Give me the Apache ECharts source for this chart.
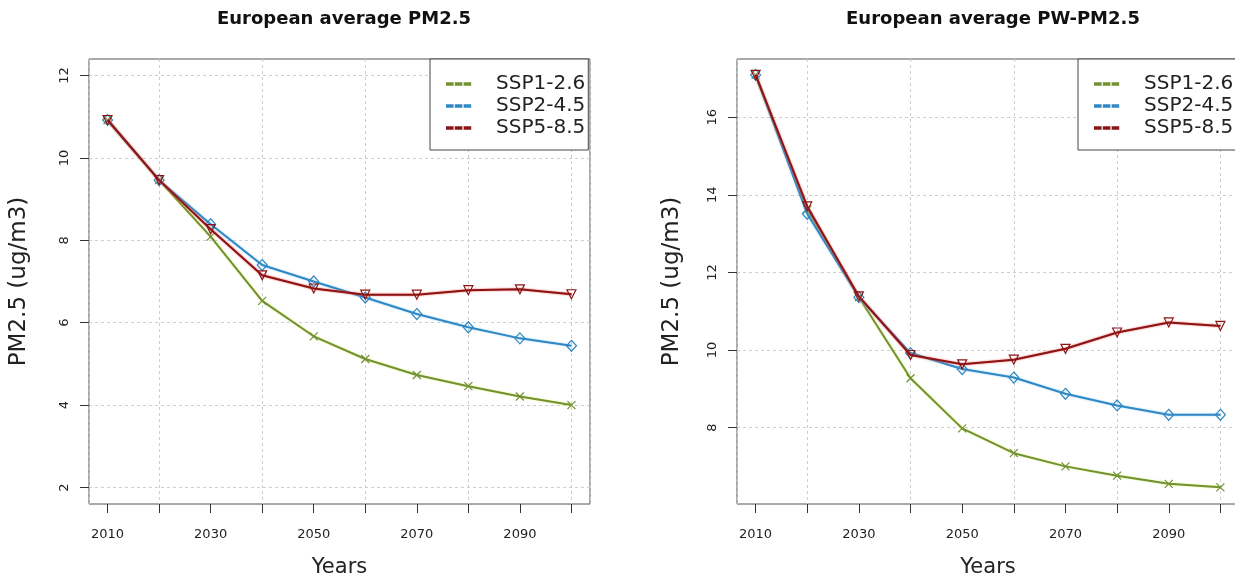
<!DOCTYPE html>
<html>
<head>
<meta charset="utf-8">
<script src="https://cdn.jsdelivr.net/npm/echarts@6/dist/echarts.min.js"></script>
<style>
html,body{margin:0;padding:0;background:#fff}
#main{width:1235px;height:576px}
</style>
</head>
<body>
<div id="main"></div>
<script>
// data
const years = [2010, 2020, 2030, 2040, 2050, 2060, 2070, 2080, 2090, 2100];
const scenarios = ['SSP1-2.6', 'SSP2-4.5', 'SSP5-8.5'];

// left: European average PM2.5
const pmSsp126 = [10.92, 9.46, 8.09, 6.53, 5.67, 5.12, 4.73, 4.46, 4.21, 4.00];
const pmSsp245 = [10.92, 9.46, 8.39, 7.40, 7.00, 6.61, 6.21, 5.89, 5.62, 5.44];
const pmSsp585 = [10.92, 9.46, 8.27, 7.15, 6.83, 6.68, 6.68, 6.79, 6.81, 6.69];

// right: European average PW-PM2.5
const pwSsp126 = [17.09, 13.62, 11.36, 9.27, 7.98, 7.34, 7.00, 6.76, 6.55, 6.46];
const pwSsp245 = [17.09, 13.51, 11.36, 9.92, 9.51, 9.29, 8.87, 8.57, 8.33, 8.33];
const pwSsp585 = [17.09, 13.70, 11.38, 9.87, 9.63, 9.75, 10.03, 10.45, 10.71, 10.62];

// axis ticks / labels
const xTicks = [2010, 2020, 2030, 2040, 2050, 2060, 2070, 2080, 2090, 2100];
const xLabels = [2010, 2030, 2050, 2070, 2090];
const pmTicks = [2, 4, 6, 8, 10, 12];
const pwTicks = [8, 10, 12, 14, 16];

const colors = ['#729232', '#3088c4', '#8b1414'];
const glows = ['#dcef80', '#9ad4f4', '#f06060'];
const FONT = 'DejaVu Sans';

const chart = echarts.init(document.getElementById('main'));

const dashIcon = 'path://M0,0h7v2h-7z M11,0h7v2h-7z M22,0h7v2h-7z';
const symbols = ['path://M0,0L10,10M10,0L0,10', 'diamond', 'triangle'];
const symbolSizes = [8, [10, 11], 9];
const symbolRotates = [0, 0, 180];

const gridLine = {show: true, lineStyle: {color: '#cdcdcd', type: [3, 3], width: 1}};

function makeSeries(idx, lists) {
    return lists.map((vals, k) => ({
        name: scenarios[k],
        type: 'line',
        xAxisIndex: idx * 2,
        yAxisIndex: idx,
        data: years.map((y, i) => [y, vals[i]]),
        symbol: symbols[k],
        symbolSize: symbolSizes[k],
        symbolRotate: symbolRotates[k],
        lineStyle: {color: colors[k], width: 2, shadowColor: glows[k], shadowBlur: 2},
        itemStyle: {color: 'rgba(255,255,255,0)', borderColor: colors[k], borderWidth: 1.2},
        z: 2 + k,
        animation: false
    }));
}

function makeX(idx) {
    return [
        {
            gridIndex: idx, type: 'value', min: 2006.4, max: 2103.6, position: 'bottom',
            axisLine: {show: false, onZero: false},
            axisTick: {show: true, length: 9, customValues: xTicks, lineStyle: {color: '#333'}},
            axisLabel: {customValues: xLabels, formatter: v => String(v), margin: 24,
                        fontSize: 13, color: '#222', fontFamily: FONT},
            splitLine: {show: false},
            name: 'Years', nameLocation: 'middle', nameGap: 53,
            nameTextStyle: {fontSize: 21, color: '#222', fontFamily: FONT}
        },
        // vertical grid every 20 years (2020..2100): axis counted in years after 2020
        {
            gridIndex: idx, type: 'value', min: 2006.4 - 2020, max: 2103.6 - 2020, splitNumber: 5,
            position: 'bottom',
            axisLine: {show: false, onZero: false}, axisTick: {show: false}, axisLabel: {show: false},
            splitLine: gridLine
        }
    ];
}

function makeY(idx, min, max, ticks, gap) {
    return {
        gridIndex: idx, type: 'value', min: min, max: max,
        axisLine: {show: false, onZero: false},
        axisTick: {show: true, length: 9, customValues: ticks, lineStyle: {color: '#333'}},
        axisLabel: {customValues: ticks, rotate: 90, margin: 18, fontSize: 13, color: '#222', fontFamily: FONT},
        splitLine: gridLine,
        name: 'PM2.5 (ug/m3)', nameLocation: 'middle', nameGap: gap,
        nameTextStyle: {fontSize: 23, color: '#222', fontFamily: FONT}
    };
}

function makeLegend(left) {
    return {
        left: left, top: 59, orient: 'vertical',
        borderColor: '#444', borderWidth: 1, backgroundColor: '#fff',
        padding: [15, 3, 12, 16],
        itemWidth: 29, itemHeight: 1.6, itemGap: 2,
        data: scenarios.map((s, k) => ({name: s, icon: dashIcon, itemStyle: {color: colors[k]}})),
        textStyle: {fontSize: 20, color: '#222', fontFamily: FONT, padding: [0, 0, 0, 18]},
        selectedMode: false,
        z: 10
    };
}

chart.setOption({
    animation: false,
    title: [
        {text: 'European average PM2.5', left: 339, top: 5, textAlign: 'center',
         textStyle: {fontSize: 18, fontWeight: 'bold', color: '#111', fontFamily: FONT}},
        {text: 'European average PW-PM2.5', left: 988, top: 5, textAlign: 'center',
         textStyle: {fontSize: 18, fontWeight: 'bold', color: '#111', fontFamily: FONT}}
    ],
    grid: [
        {left: 89, right: 645, top: 59, bottom: 72, outerBoundsMode: 'none',
         show: true, borderColor: '#555', borderWidth: 1},
        {left: 737, right: -4, top: 59, bottom: 72, outerBoundsMode: 'none',
         show: true, borderColor: '#555', borderWidth: 1}
    ],
    legend: [makeLegend(430), makeLegend(1078)],
    xAxis: makeX(0).concat(makeX(1)),
    yAxis: [makeY(0, 1.6, 12.4, pmTicks, 58), makeY(1, 6.03, 17.5, pwTicks, 53)],
    series: makeSeries(0, [pmSsp126, pmSsp245, pmSsp585])
        .concat(makeSeries(1, [pwSsp126, pwSsp245, pwSsp585]))
});
</script>
</body>
</html>
